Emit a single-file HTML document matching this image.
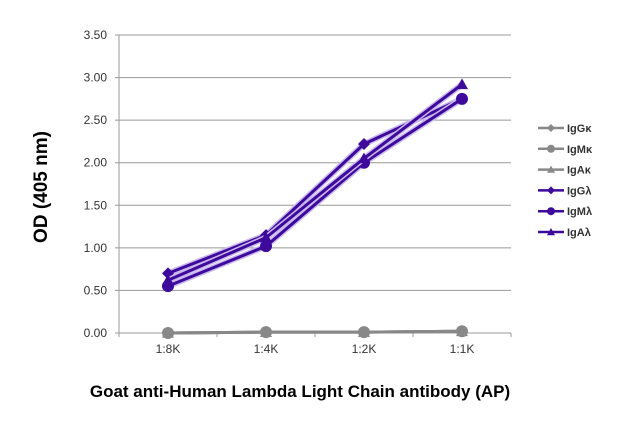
<!DOCTYPE html>
<html><head><meta charset="utf-8"><style>
body{margin:0;background:#fff;width:631px;height:426px;overflow:hidden;font-family:"Liberation Sans",sans-serif}
</style></head><body>
<svg id="chart" width="631" height="426" xmlns="http://www.w3.org/2000/svg">
<g id="grid"></g><g id="series"></g><g id="legend"></g>
<text transform="translate(47,187) rotate(-90)" text-anchor="middle" font-size="19" font-weight="bold" fill="#000">OD (405 nm)</text>
<text x="300" y="397" text-anchor="middle" font-size="17" font-weight="bold" fill="#000">Goat anti-Human Lambda Light Chain antibody (AP)</text>
</svg>
<script>
const categories=["1:8K","1:4K","1:2K","1:1K"];
const yTicks=[0,0.5,1,1.5,2,2.5,3,3.5];
const seriesNames=["IgGκ","IgMκ","IgAκ","IgGλ","IgMλ","IgAλ"];
const IgGk=[0.00,0.01,0.01,0.02];
const IgMk=[0.00,0.01,0.01,0.02];
const IgAk=[0.00,0.01,0.01,0.02];
const IgGl=[0.70,1.15,2.22,2.75];
const IgMl=[0.55,1.02,2.00,2.75];
const IgAl=[0.62,1.12,2.05,2.92];
const seriesData=[IgGk,IgMk,IgAk,IgGl,IgMl,IgAl];
const NS="http://www.w3.org/2000/svg";
const x0=119,x1=511,yT=35,yB=333,ymax=3.5;
const xS=i=>x0+(x1-x0)/categories.length*(i+0.5);
const yS=v=>yB-(v/ymax)*(yB-yT);
function mk(t,a,p){const e=document.createElementNS(NS,t);for(const k in a)e.setAttribute(k,a[k]);p.appendChild(e);return e;}
const grid=document.getElementById('grid');
yTicks.forEach(v=>{
 const l=mk('line',{x1:x0-4,x2:x1,y1:yS(v),y2:yS(v),stroke:'#999','stroke-width':1},grid);
 
 
 const t=mk('text',{x:x0-12,y:yS(v)+4,'text-anchor':'end','font-size':12,fill:'#333'},grid);
 
 
 t.textContent=v.toFixed(2);
});
const ax=mk('line',{x1:x0,x2:x0,y1:yT,y2:yB,stroke:'#999'},grid);


for(let i=0;i<=categories.length;i++){const x=x0+(x1-x0)/categories.length*i;mk('line',{x1:x,x2:x,y1:yB,y2:yB+4,stroke:'#999'},grid);}
categories.forEach((c,i)=>{
 const t=mk('text',{x:xS(i),y:yB+20,'text-anchor':'middle','font-size':12,fill:'#333'},grid);
 
 
 t.textContent=c;
});
const colors=['#888','#888','#888','#3d0a9c','#3d0a9c','#3d0a9c'];
const shapes=['diamond','circle','triangle','diamond','circle','triangle'];
function marker(s,x,y,c,r,p){
 if(s==='circle')return mk('circle',{cx:x,cy:y,r:r,fill:c},p);
 if(s==='diamond')return mk('polygon',{points:`${x},${y-r} ${x+r},${y} ${x},${y+r} ${x-r},${y}`,fill:c},p);
 return mk('polygon',{points:`${x},${y-r} ${x+r},${y+r*0.8} ${x-r},${y+r*0.8}`,fill:c},p);
}
const sg=document.getElementById('series');
seriesData.forEach((d,si)=>{
 const g=mk('g',{},sg);
 
 
 const pts=d.map((v,i)=>xS(i)+','+yS(v)).join(' ');
 if(si>=3)mk('polyline',{points:pts,fill:'none',stroke:'#c9b8ee','stroke-width':6},g);
 mk('polyline',{points:pts,fill:'none',stroke:colors[si],'stroke-width':3},g);
 d.forEach((v,i)=>{const m=marker(shapes[si],xS(i),yS(v),colors[si],6,g);
  
  });
});
const lg=document.getElementById('legend');
seriesNames.forEach((n,i)=>{
 const y=128+i*20.8;
 const g=mk('g',{},lg);
 
 
 mk('line',{x1:538,x2:564,y1:y,y2:y,stroke:colors[i],'stroke-width':2.5},g);
 marker(shapes[i],551,y,colors[i],4,g);
 const t=mk('text',{x:567,y:y+4,'font-size':11,'font-weight':'bold',fill:'#333'},g);
 t.textContent=n;
});
</script>
</body></html>
